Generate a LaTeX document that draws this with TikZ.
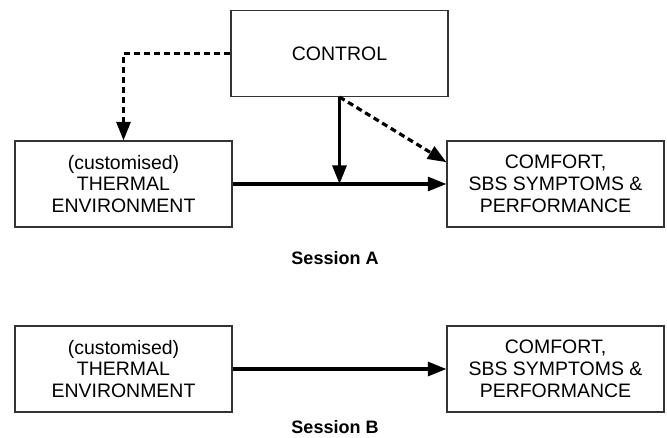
\documentclass[tikz,border=0pt]{standalone}
\usepackage{fontspec}
\setmainfont{Liberation Sans}
\usetikzlibrary{arrows.meta,positioning,calc}

\begin{document}
\begin{tikzpicture}[x=0.75pt,y=-0.75pt,font=\fontsize{14.6}{16.4}\selectfont,
box/.style={draw=black!80,line width=.8pt,fill=white,align=center,minimum width=162.75pt,minimum height=64.5pt,inner sep=0pt},
arr/.style={-{Triangle[length=14pt,width=10.5pt]},line width=2.4pt,draw=black},
darr/.style={arr,dash pattern=on 4.5pt off 3pt},
lbl/.style={font=\fontsize{13.5}{16}\selectfont\bfseries}]
\useasboundingbox (0,0) rectangle (667,437);

% session A
\node[box](ctrl)at(339.5,53.5){CONTROL};
\node[box](thA)at(123.5,184){(customised)\\THERMAL\\ENVIRONMENT};
\node[box](cfA)at(555.5,184){COMFORT,\\SBS SYMPTOMS \&\\PERFORMANCE};
\coordinate(mid)at(ctrl.south |- thA.east);
\draw[arr](thA.east)--(cfA.west);
\draw[arr](ctrl.south)--(mid);
\draw[darr](ctrl.west)-|(thA.north);
\draw[darr](ctrl.south)--($(cfA.north west)!0.25!(cfA.south west)$);
\node[lbl](sesA)at(335,258){Session A};

% session B
\node[box](thB)at(123.5,369){(customised)\\THERMAL\\ENVIRONMENT};
\node[box](cfB)at(555.5,369){COMFORT,\\SBS SYMPTOMS \&\\PERFORMANCE};
\draw[arr](thB.east)--(cfB.west);
\node[lbl](sesB)at(335,427){Session B};
\end{tikzpicture}
\end{document}
